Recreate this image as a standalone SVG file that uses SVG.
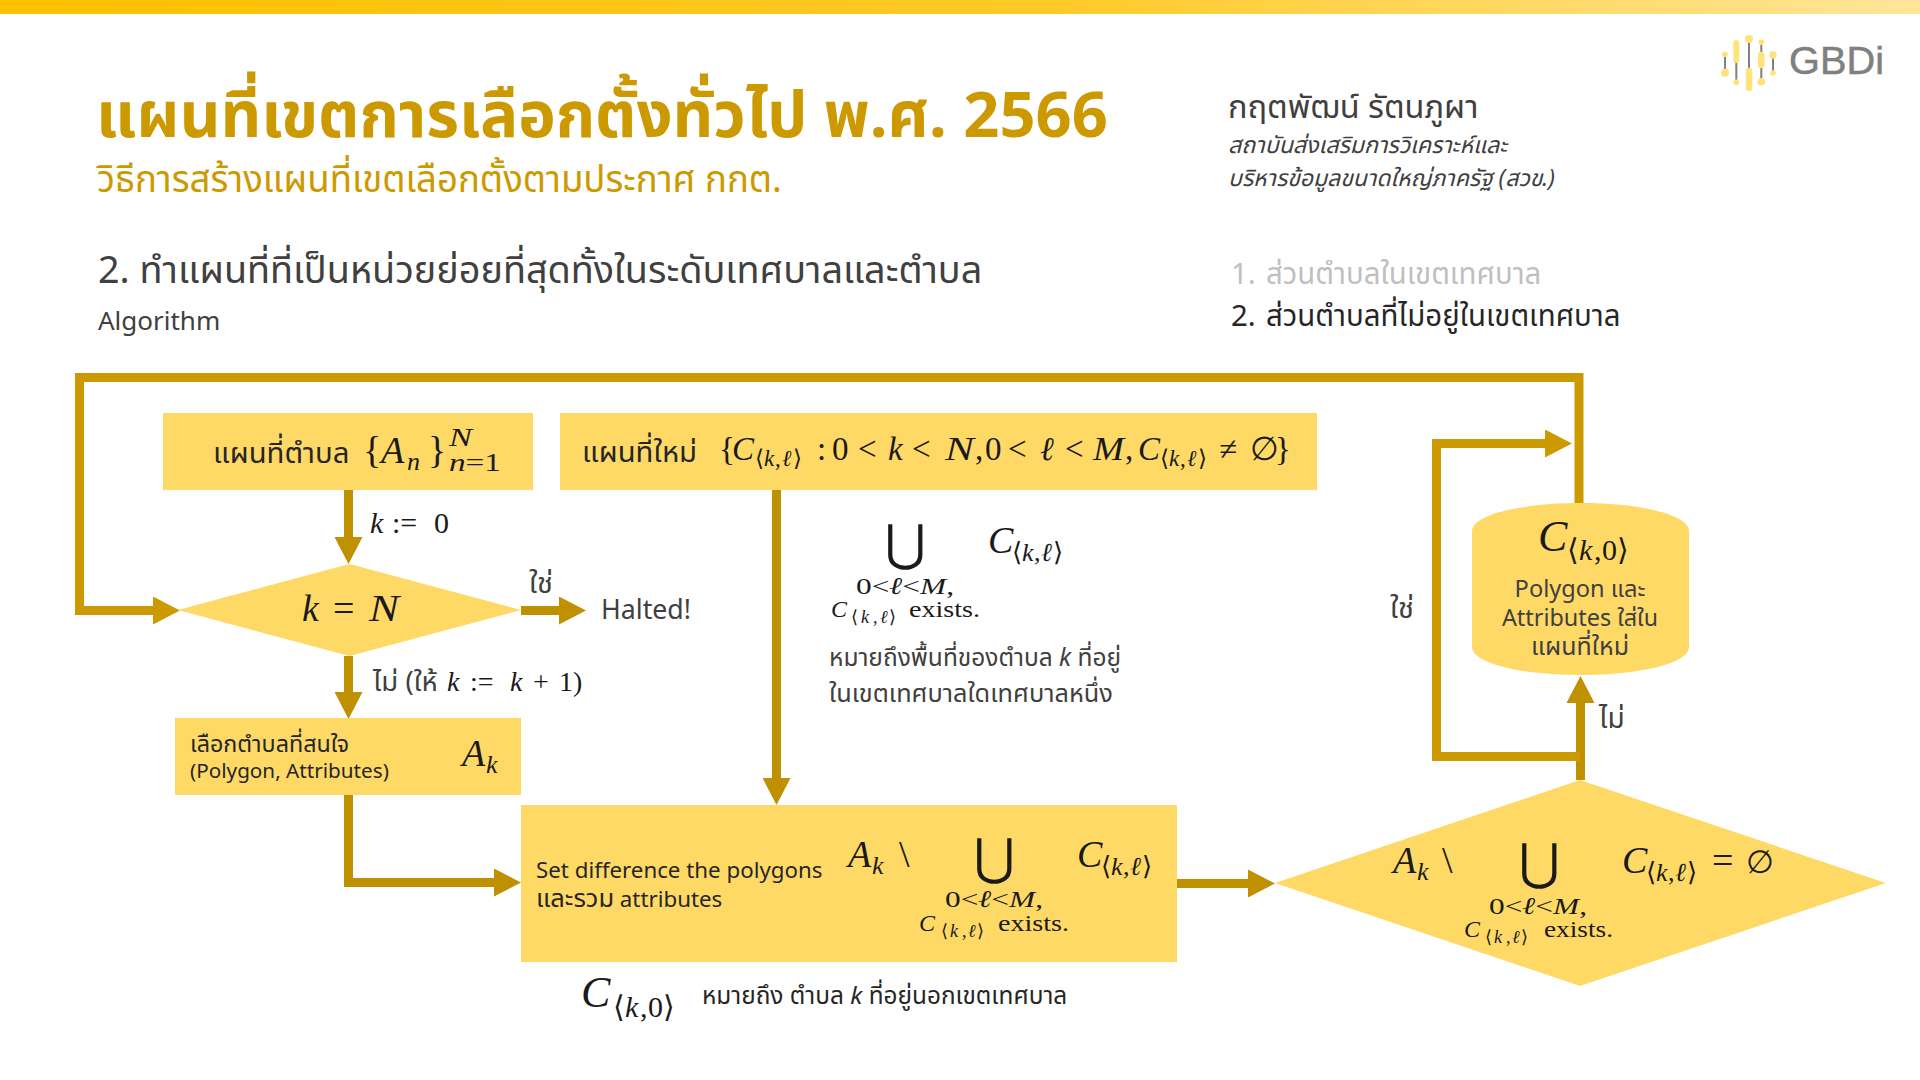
<svg xmlns="http://www.w3.org/2000/svg" width="1920" height="1080" viewBox="0 0 1920 1080">
<style>
text{font-family:"Noto Sans","Noto Sans Thai",sans-serif;fill:#404040}
.m{font-family:"Liberation Serif","DejaVu Serif",serif;font-style:italic;fill:#1a1a1a}
.r{font-family:"Liberation Serif","DejaVu Serif",serif;fill:#1a1a1a}
.u{font-family:"DejaVu Sans",sans-serif;fill:#1a1a1a}
.box{fill:#FFD966}
.c1,.c2{fill:none;stroke-width:9}
.c1{stroke:#CC9900}.c2{stroke:#BF9000}
.lg{fill:#FFE37A}
</style>
<defs>
<linearGradient id="bar"><stop offset="0" stop-color="#FFC000"/><stop offset="0.55" stop-color="#FFCA28"/><stop offset="1" stop-color="#FFE699"/></linearGradient>
<marker id="a1" markerUnits="userSpaceOnUse" markerWidth="27" markerHeight="28" refX="0" refY="14" orient="auto"><path d="M0 0L27 14L0 28Z" fill="#CC9900"/></marker>
<marker id="a2" markerUnits="userSpaceOnUse" markerWidth="27" markerHeight="28" refX="0" refY="14" orient="auto"><path d="M0 0L27 14L0 28Z" fill="#BF9000"/></marker>
</defs>
<rect width="1920" height="1080" fill="#fff"/>
<rect width="1920" height="14" fill="url(#bar)"/>
<g id="header">
<text x="96" y="137" font-size="63.2" font-weight="700" style="fill:#CC9900">แผนที่เขตการเลือกตั้งทั่วไป พ.ศ. 2566</text>
<text x="97" y="192" font-size="36.6" style="fill:#CC9900">วิธีการสร้างแผนที่เขตเลือกตั้งตามประกาศ กกต.</text>
<text x="98" y="283" font-size="37.8">2. ทำแผนที่ที่เป็นหน่วยย่อยที่สุดทั้งในระดับเทศบาลและตำบล</text>
<text x="98" y="330" font-size="26">Algorithm</text>
<text x="1228" y="118" font-size="32.5">กฤตพัฒน์ รัตนภูผา</text>
<text x="1228" y="153" font-size="23.2" font-style="italic">สถาบันส่งเสริมการวิเคราะห์และ</text>
<text x="1228" y="186" font-size="23" font-style="italic">บริหารข้อมูลขนาดใหญ่ภาครัฐ (สวข.)</text>
<text x="1231" y="284" font-size="29.4" style="fill:#BFBFBF">1.</text>
<text x="1266" y="284" font-size="29.4" style="fill:#BFBFBF">ส่วนตำบลในเขตเทศบาล</text>
<text x="1231" y="326" font-size="29.4" style="fill:#262626">2.</text>
<text x="1266" y="326" font-size="29.4" style="fill:#262626">ส่วนตำบลที่ไม่อยู่ในเขตเทศบาล</text>
</g>
<g id="logo">
<path d="M1725 54V73M1736.3 50V82M1749 39V75M1761.3 42V82M1773 55V73" fill="none" stroke="#808080" stroke-width="2"/>
<circle class="lg" cx="1725" cy="54.3" r="2.8"/><circle class="lg" cx="1725" cy="72.7" r="4"/>
<rect class="lg" x="1733.3" y="40" width="6" height="23" rx="3"/><circle class="lg" cx="1736.3" cy="82.3" r="2.8"/>
<circle class="lg" cx="1749" cy="39" r="4"/><rect class="lg" x="1745.8" y="67.7" width="6.5" height="23.5" rx="3"/>
<circle class="lg" cx="1761.3" cy="42.3" r="2.8"/><rect class="lg" x="1758" y="51.7" width="6.5" height="16.6" rx="3"/><circle class="lg" cx="1761.3" cy="81.7" r="3.8"/>
<circle class="lg" cx="1773" cy="55" r="3.8"/><circle class="lg" cx="1773" cy="73" r="2.8"/>
<text x="1789" y="74" font-size="38" textLength="95" lengthAdjust="spacingAndGlyphs" stroke="#808080" stroke-width=".5" style="font-family:'Liberation Sans',sans-serif;fill:#808080">GBDi</text>
</g>
<g id="connectors">
<path class="c1" d="M1579 503V377.5H79.5V610.5H153" marker-end="url(#a1)"/>
<path class="c2" d="M348.5 490V537" marker-end="url(#a2)"/>
<path class="c2" d="M521 610.5H559" marker-end="url(#a2)"/>
<path class="c2" d="M348.5 656V692" marker-end="url(#a2)"/>
<path class="c2" d="M348.5 795V882.5H494" marker-end="url(#a2)"/>
<path class="c2" d="M776.5 490V778" marker-end="url(#a2)"/>
<path class="c2" d="M1177 883.5H1248" marker-end="url(#a2)"/>
<path class="c2" d="M1580.5 780V703" marker-end="url(#a2)"/>
<path class="c1" d="M1580 756.5H1436.5V443.5H1545" marker-end="url(#a1)"/>
</g>
<g id="node-tambon-map">
<rect class="box" x="163" y="413" width="370" height="77"/>
<text x="213" y="463" font-size="29.3" style="fill:#262626">แผนที่ตำบล</text>
<text y="463" font-size="38"><tspan class="r" x="363">{</tspan><tspan class="m" x="381">A</tspan></text>
<text class="m" x="407" y="470" font-size="26">n</text>
<text class="r" x="428" y="463" font-size="38">}</text>
<text class="m" x="449" y="446" font-size="26" textLength="23" lengthAdjust="spacingAndGlyphs">N</text>
<text x="449" y="471" font-size="26" textLength="52" lengthAdjust="spacingAndGlyphs"><tspan class="m">n</tspan><tspan class="r">=1</tspan></text>
</g>
<g id="node-new-map">
<rect class="box" x="560" y="413" width="757" height="77"/>
<text x="582" y="462" font-size="29.3" style="fill:#262626">แผนที่ใหม่</text>
<text y="460" font-size="33" class="r"><tspan x="719">{</tspan><tspan class="m" x="732">C</tspan><tspan x="817">:</tspan><tspan x="832">0</tspan><tspan x="858">&lt;</tspan><tspan class="m" x="888">k</tspan><tspan x="912">&lt;</tspan><tspan x="975">,</tspan><tspan x="985">0</tspan><tspan x="1008">&lt;</tspan><tspan class="m" x="1040">ℓ</tspan><tspan x="1065">&lt;</tspan><tspan x="1125">,</tspan><tspan class="m" x="1138">C</tspan><tspan x="1219">≠</tspan><tspan x="1250">∅</tspan><tspan x="1275">}</tspan></text>
<text class="m" x="945" y="460" font-size="33" textLength="29" lengthAdjust="spacingAndGlyphs">N</text>
<text class="m" x="1093" y="460" font-size="33" textLength="31" lengthAdjust="spacingAndGlyphs">M</text>
<text y="466" font-size="23" class="r"><tspan x="755">⟨</tspan><tspan class="m" x="764">k</tspan><tspan x="775">,</tspan><tspan class="m" x="782">ℓ</tspan><tspan x="793">⟩</tspan><tspan x="1160">⟨</tspan><tspan class="m" x="1169">k</tspan><tspan x="1180">,</tspan><tspan class="m" x="1187">ℓ</tspan><tspan x="1198">⟩</tspan></text>
</g>
<g id="node-decide-k">
<polygon class="box" points="178,610 349.5,564 521,610 349.5,656"/>
<text x="302" y="621" font-size="38"><tspan class="m">k</tspan><tspan class="r" x="333">=</tspan></text>
<text class="m" x="369" y="621" font-size="38" textLength="30" lengthAdjust="spacingAndGlyphs">N</text>
</g>
<g id="node-halted"><text x="601" y="619" font-size="26.7">Halted!</text></g>
<g id="labels">
<text x="370" y="533" font-size="30"><tspan class="m">k</tspan><tspan class="r" x="392">:=</tspan><tspan class="r" x="434">0</tspan></text>
<text x="529" y="593" font-size="29">ใช่</text>
<text x="373" y="691" font-size="27.5">ไม่ (ให้</text>
<text y="691" font-size="28"><tspan class="m" x="447">k</tspan><tspan class="r" x="470">:=</tspan><tspan class="m" x="510">k</tspan><tspan class="r" x="533">+</tspan><tspan class="r" x="559">1)</tspan></text>
<text x="1390" y="618" font-size="29">ใช่</text>
<text x="1599" y="728" font-size="28">ไม่</text>
</g>
<g id="node-select">
<rect class="box" x="175" y="718" width="346" height="77"/>
<text x="190" y="752" font-size="23.3" style="fill:#262626">เลือกตำบลที่สนใจ</text>
<text x="190" y="778" font-size="20.7" style="fill:#262626">(Polygon, Attributes)</text>
<text class="m" x="462" y="766" font-size="38">A</text>
<text class="m" x="486" y="773" font-size="26">k</text>
</g>
<g id="union-note">
<text class="u" x="905" y="560" font-size="50" text-anchor="middle">⋃</text>
<text x="856" y="594" font-size="24" textLength="98" lengthAdjust="spacingAndGlyphs"><tspan class="r">0&lt;</tspan><tspan class="m">ℓ</tspan><tspan class="r">&lt;</tspan><tspan class="m">M</tspan><tspan class="r">,</tspan></text>
<text class="m" x="831" y="617" font-size="24">C</text>
<text y="623" font-size="18" class="r"><tspan x="851">⟨</tspan><tspan class="m" x="861">k</tspan><tspan x="873">,</tspan><tspan class="m" x="880">ℓ</tspan><tspan x="889">⟩</tspan></text>
<text class="r" x="909" y="617" font-size="24" textLength="71" lengthAdjust="spacingAndGlyphs">exists.</text>
<text class="m" x="988" y="553" font-size="38">C</text>
<text y="561" font-size="26" class="r"><tspan x="1012">⟨</tspan><tspan class="m" x="1022">k</tspan><tspan x="1034">,</tspan><tspan class="m" x="1041">ℓ</tspan><tspan x="1053">⟩</tspan></text>
<text x="829" y="666" font-size="24.5">หมายถึงพื้นที่ของตำบล <tspan font-style="italic">k</tspan> ที่อยู่</text>
<text x="829" y="702" font-size="25.3">ในเขตเทศบาลใดเทศบาลหนึ่ง</text>
</g>
<g id="node-difference">
<rect class="box" x="521" y="805" width="656" height="157"/>
<text x="536" y="878" font-size="22.3" style="fill:#262626">Set difference the polygons</text>
<text x="536" y="907" font-size="22.3" style="fill:#262626"><tspan font-size="25.5">และรวม</tspan> attributes</text>
<text class="m" x="848" y="867" font-size="38">A</text>
<text class="m" x="872" y="874" font-size="26">k</text>
<text class="r" x="899" y="867" font-size="38">\</text>
<text class="u" x="994" y="874" font-size="50" text-anchor="middle">⋃</text>
<text x="945" y="907" font-size="24" textLength="98" lengthAdjust="spacingAndGlyphs"><tspan class="r">0&lt;</tspan><tspan class="m">ℓ</tspan><tspan class="r">&lt;</tspan><tspan class="m">M</tspan><tspan class="r">,</tspan></text>
<text class="m" x="919" y="931" font-size="24">C</text>
<text y="937" font-size="18" class="r"><tspan x="941">⟨</tspan><tspan class="m" x="950">k</tspan><tspan x="962">,</tspan><tspan class="m" x="968">ℓ</tspan><tspan x="977">⟩</tspan></text>
<text class="r" x="998" y="931" font-size="24" textLength="71" lengthAdjust="spacingAndGlyphs">exists.</text>
<text class="m" x="1077" y="867" font-size="38">C</text>
<text y="875" font-size="26" class="r"><tspan x="1101">⟨</tspan><tspan class="m" x="1111">k</tspan><tspan x="1123">,</tspan><tspan class="m" x="1130">ℓ</tspan><tspan x="1142">⟩</tspan></text>
</g>
<g id="caption">
<text class="m" x="581" y="1007" font-size="44">C</text>
<text y="1017" font-size="30" class="r"><tspan x="613">⟨</tspan><tspan class="m" x="625">k</tspan><tspan x="640">,</tspan><tspan x="648">0</tspan><tspan x="663">⟩</tspan></text>
<text x="702" y="1004" font-size="24.4" style="fill:#262626">หมายถึง ตำบล <tspan font-style="italic">k</tspan> ที่อยู่นอกเขตเทศบาล</text>
</g>
<g id="node-store">
<path class="box" d="M1472 531C1472 515 1520 503 1580.5 503S1689 515 1689 531V647C1689 663 1641 675 1580.5 675S1472 663 1472 647Z"/>
<text class="m" x="1538" y="551" font-size="44">C</text>
<text y="560" font-size="30" class="r"><tspan x="1567">⟨</tspan><tspan class="m" x="1579">k</tspan><tspan x="1594">,</tspan><tspan x="1602">0</tspan><tspan x="1617">⟩</tspan></text>
<text x="1580" y="597" font-size="23.6" text-anchor="middle">Polygon และ</text>
<text x="1580" y="626" font-size="23.4" text-anchor="middle">Attributes ใส่ใน</text>
<text x="1580" y="655" font-size="25" text-anchor="middle">แผนที่ใหม่</text>
</g>
<g id="node-decide-empty">
<polygon class="box" points="1275,883 1580,780 1886,883 1580,986"/>
<text class="m" x="1393" y="873" font-size="38">A</text>
<text class="m" x="1417" y="880" font-size="26">k</text>
<text class="r" x="1442" y="873" font-size="38">\</text>
<text class="u" x="1539" y="879" font-size="50" text-anchor="middle">⋃</text>
<text x="1489" y="914" font-size="24" textLength="98" lengthAdjust="spacingAndGlyphs"><tspan class="r">0&lt;</tspan><tspan class="m">ℓ</tspan><tspan class="r">&lt;</tspan><tspan class="m">M</tspan><tspan class="r">,</tspan></text>
<text class="m" x="1464" y="937" font-size="24">C</text>
<text y="943" font-size="18" class="r"><tspan x="1485">⟨</tspan><tspan class="m" x="1494">k</tspan><tspan x="1506">,</tspan><tspan class="m" x="1512">ℓ</tspan><tspan x="1521">⟩</tspan></text>
<text class="r" x="1544" y="937" font-size="24" textLength="69" lengthAdjust="spacingAndGlyphs">exists.</text>
<text class="m" x="1622" y="873" font-size="38">C</text>
<text y="881" font-size="26" class="r"><tspan x="1646">⟨</tspan><tspan class="m" x="1656">k</tspan><tspan x="1668">,</tspan><tspan class="m" x="1675">ℓ</tspan><tspan x="1687">⟩</tspan></text>
<text class="r" x="1712" y="873" font-size="38">=</text>
<text class="r" x="1746" y="873" font-size="32">∅</text>
</g>
</svg>
